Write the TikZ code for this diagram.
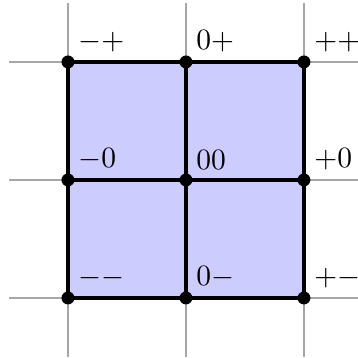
\documentclass[tikz,border=0pt]{standalone}
\begin{document}
\begin{tikzpicture}[x=40pt,y=40pt,
  guide/.style={gray!70,line width=0.5pt},
  edge/.style={black,line width=1.4pt},
  dot/.style={circle,fill=black,inner sep=0pt,minimum size=4.4pt},
  lab/.style={anchor=south west,inner sep=3.33pt}]
\useasboundingbox (-1.576,-1.508) rectangle (1.458,1.525);
\foreach \v in {-1,0,1} {
  \draw[guide] (\v,-1.5) -- (\v,1.5);
  \draw[guide] (-1.5,\v) -- (1.5,\v);
}
\fill[blue!20] (-1,-1) rectangle (1,1);
\foreach \x/\a in {-1/m,0/z,1/p} {
  \foreach \y/\b in {-1/m,0/z,1/p} {
    \coordinate (c\a\b) at (\x,\y);
  }
}
\draw[edge] (cmm) -- (cpm) (cmz) -- (cpz) (cmp) -- (cpp)
            (cmm) -- (cmp) (czm) -- (czp) (cpm) -- (cpp);
\foreach \n in {mm,mz,mp,zm,zz,zp,pm,pz,pp} {
  \node[dot] (d\n) at (c\n) {};
}
\node[lab] (lmp) at (cmp) {$-+$};
\node[lab] (lzp) at (czp) {$0+$};
\node[lab] (lpp) at (cpp) {$++$};
\node[lab] (lmz) at (cmz) {$-0$};
\node[lab] (lzz) at (czz) {$00$};
\node[lab] (lpz) at (cpz) {$+0$};
\node[lab] (lmm) at (cmm) {$--$};
\node[lab] (lzm) at (czm) {$0-$};
\node[lab] (lpm) at (cpm) {$+-$};
\end{tikzpicture}
\end{document}
